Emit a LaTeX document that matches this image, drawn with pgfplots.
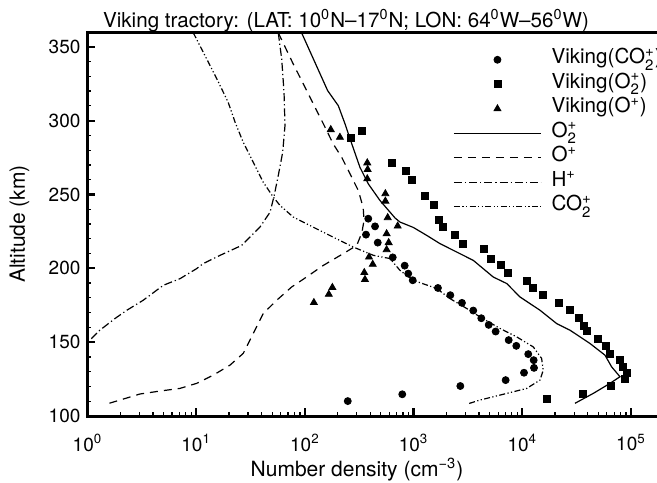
\documentclass[border=0pt]{standalone}
\usepackage{fontspec}
\setmainfont{TeX Gyre Heros}
\usepackage{pgfplots}
\pgfplotsset{compat=1.18}

% stacked subscript/superscript for ion names
\newcommand{\ion}[2]{\ensuremath{_{\hbox{\fontsize{7.5}{8}\selectfont #1}}^{\hbox{\fontsize{7.5}{8}\selectfont #2}}}}

% legend images: long line sample, or a single centred mark
\pgfplotsset{
  long line legend/.style={legend image code/.code={\draw[##1] (0pt,0pt) -- (43.5pt,0pt);}},
  mark legend/.style={legend image code/.code={\draw[##1] plot coordinates {(21.75pt,0pt)};}},
}

\begin{document}
\begin{tikzpicture}
\begin{axis}[
  at={(0,0)}, anchor=south west,
  scale only axis, width=286.4pt, height=192pt,
  xmode=log, xmin=1, xmax=186209, ymin=100, ymax=360,
  xtick={1,10,100,1000,10000,100000},
  xticklabels={10\textsuperscript{0},10\textsuperscript{1},10\textsuperscript{2},10\textsuperscript{3},10\textsuperscript{4},10\textsuperscript{5}},
  minor xtick={2,3,4,5,6,7,8,9,20,30,40,50,60,70,80,90,200,300,400,500,600,700,800,900,2000,3000,4000,5000,6000,7000,8000,9000,20000,30000,40000,50000,60000,70000,80000,90000},
  ytick={100,150,200,250,300,350},
  minor ytick={110,120,130,140,160,170,180,190,210,220,230,240,260,270,280,290,310,320,330,340},
  xtick pos=left, ytick pos=left,
  tick align=inside,
  major tick length=4pt, minor tick length=2pt,
  every major tick/.append style={line width=1.1pt, black},
  every minor tick/.append style={line width=0.6pt, black},
  axis line style={line width=1.5pt},
  /pgf/number format/assume math mode=true,
  ticklabel style={font=\fontsize{9.5}{11}\selectfont},
  xticklabel style={yshift=-5.5pt},
  xlabel={Number density (cm\textsuperscript{−3})},
  ylabel={Altitude (km)},
  xlabel style={font=\fontsize{10.5}{12}\selectfont, at={(axis description cs:0.4705,-0.157)}, anchor=base},
  ylabel style={font=\fontsize{10.5}{12}\selectfont, at={(axis description cs:-0.119,0.5)}, anchor=center},
  title={Viking tractory: (LAT: 10\textsuperscript{0}N–17\textsuperscript{0}N; LON: 64\textsuperscript{0}W–56\textsuperscript{0}W)},
  every axis title shift=0pt,
  title style={font=\fontsize{10.3}{12}\selectfont, at={(axis description cs:0.4513,1.013)}, anchor=base},
  long line legend,
  legend style={at={(axis description cs:0.638,0.9606)}, anchor=north west,
    draw=none, fill=none, inner sep=0pt, row sep=0pt, column sep=5pt,
    font=\fontsize{10.3}{12}\selectfont,
    nodes={inner sep=0pt, text height=8pt, text depth=4.25pt}},
  legend cell align=left,
  clip=true,
]

% Viking measurements
\addplot[only marks, mark=*, mark size=1.75pt, black, mark legend]
coordinates {
(383,233.6) (442,228.4) (365,222.8) (468,217.4) (643,207.4) (828,201.8)
(893,196.4) (982,191.9) (1675,186.7) (2178,181.8) (2786,176.6) (3540,171.4)
(4198,166.2) (4909,161.7) (5689,157.2) (7499,151.4) (8810,147.5) (11350,141.9)
(12735,137.8) (12823,132.6) (10375,129.3) (7031,124.3) (2692,120.3) (787,114.7)
(248,110.1)
};
\addlegendentry{Viking(CO\ion{2}{+})}

\addplot[only marks, mark=square*, mark size=1.75pt, black, mark legend]
coordinates {
(333,292.8) (264,288.0) (632,271.6) (851,265.7) (959,259.9) (1274,248.9)
(1531,243.2) (1702,233.1) (1854,227.9) (2404,222.8) (2864,216.7) (4416,213.0)
(5152,206.5) (6368,202.0) (7379,197.1) (11117,191.2) (12618,186.7) (15488,181.8)
(21777,176.6) (27479,171.6) (33037,166.2) (36983,160.8) (39084,157.4) (50003,152.2)
(58479,147.8) (64121,142.1) (79250,138.0) (84918,133.3) (91833,129.3) (88105,124.8)
(65013,120.5) (35975,114.9) (16982,111.3)
};
\addlegendentry{Viking(O\ion{2}{+})}

\addplot[only marks, mark=triangle*, mark size=2pt, black, mark legend]
coordinates {
(173,293.9) (210,288.7) (375,271.4) (378,266.9) (375,260.6) (550,250.5)
(550,245.5) (578,234.3) (714,228.6) (565,223.4) (590,217.4) (565,212.6)
(389,207.6) (421,202.7) (352,197.1) (357,192.4) (179,187.0) (166,182.4)
(121,176.8)
};
\addlegendentry{Viking(O\textsuperscript{+})}

% model profiles
\addplot[black, line width=0.6pt] coordinates {
(93.5,359.3) (162,320.3) (203,310.1) (234,297.8) (270,284.3) (321,268.4)
(383,257.2) (491,245.9) (675,234.1) (750,231.3) (993,227.7) (1321,222.3)
(1750,216.7) (2673,209.9) (3540,205.4) (5408,194.1) (7194,189.7) (9528,180.6)
(14555,171.6) (20701,162.6) (27479,158.1) (41976,149.1) (57677,141.2) (66374,133.3)
(79250,126.6) (64121,122.1) (44978,115.3) (30549,108.6)
};
\addlegendentry{O\ion{2}{+}}

\addplot[black, line width=0.6pt, dash pattern=on 4pt off 3pt] coordinates {
(56.9,359.5) (78.2,338.3) (104,320.3) (124,309.0) (148,297.8) (182,284.3)
(218,275.2) (260,264.0) (310,252.7) (344,241.2) (350,232.4) (335,224.3)
(300,215.5) (225,209.9) (148,202.0) (96.6,192.6) (75.7,187.4) (55.1,178.4)
(41.4,169.4) (33.5,155.9) (27.1,142.4) (20.5,134.5) (14.4,127.7) (10.1,122.1)
(7.10,118.7) (4.65,116.9) (3.04,114.9) (1.99,110.8) (1.50,108.1)
};
\addlegendentry{O\textsuperscript{+}}

\addplot[black, line width=0.6pt, dash pattern=on 4pt off 1.5pt on 0.6pt off 1.5pt] coordinates {
(56.9,359.5) (61.2,341.7) (64.3,319.1) (65.6,296.6) (62.5,278.6) (56.9,262.8)
(52.2,249.3) (47.8,238.0) (38.6,227.9) (26.2,215.5) (16.6,208.8) (11.6,203.2)
(10.1,199.8) (7.10,193.0) (4.98,188.5) (3.26,178.4) (2.30,171.6) (1.79,166.0)
(1.30,158.1) (1.09,152.5) (1.01,151.4)
};
\addlegendentry{H\textsuperscript{+}}

\addplot[black, line width=0.6pt, dash pattern=on 3pt off 1.2pt on 0.6pt off 1.2pt on 0.6pt off 1.2pt] coordinates {
(9.40,359.5) (12.5,341.7) (15.5,328.2) (19.7,312.4) (22.8,298.9) (27.1,285.3)
(33.5,271.8) (41.4,258.3) (51.2,248.2) (59.0,242.6) (78.2,234.7) (119,227.9)
(182,221.1) (279,214.4) (426,208.8) (607,206.6) (750,198.6) (993,191.9)
(1633,186.3) (2163,179.5) (3083,172.8) (4083,167.1) (6237,159.3) (8872,153.6)
(12618,146.8) (15066,139.0) (15596,131.1) (14555,124.3) (10990,118.7) (7194,115.3)
(4083,110.8) (3119,108.1)
};
\addlegendentry{CO\ion{2}{+}}

\end{axis}
\pgfresetboundingbox
\useasboundingbox (-43.75pt,-33pt) rectangle (284.75pt,208pt);
\end{tikzpicture}
\end{document}
